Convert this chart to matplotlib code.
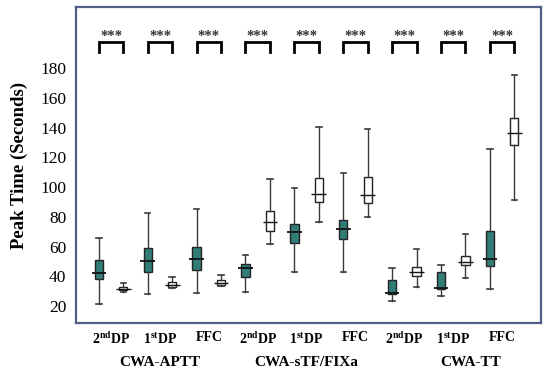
import matplotlib.pyplot as plt
import numpy as np

plt.rcParams['font.family'] = ['Liberation Serif', 'DejaVu Serif']
plt.rcParams['mathtext.fontset'] = 'custom'
plt.rcParams['mathtext.rm'] = 'Liberation Serif'
plt.rcParams['mathtext.bf'] = 'Liberation Serif:bold'

groups = ['CWA-APTT', 'CWA-sTF/FIXa', 'CWA-TT']
conditions = [r'$\mathbf{2^{nd}DP}$', r'$\mathbf{1^{st}DP}$', 'FFC'] * 3

# five-number summaries (whisker low, q1, median, q3, whisker high)
teal_low = [21.3, 28.3, 29.0, 29.6, 42.9, 43.1, 23.8, 26.9, 31.4]
teal_q1 = [38.0, 43.1, 44.2, 39.7, 62.6, 65.0, 27.9, 31.4, 47.1]
teal_med = [42.0, 50.5, 51.8, 45.8, 69.6, 71.8, 28.7, 32.4, 51.4]
teal_q3 = [50.9, 58.8, 60.0, 48.2, 75.3, 77.8, 37.7, 42.7, 70.4]
teal_high = [65.5, 82.8, 85.0, 54.3, 99.3, 109.2, 45.7, 48.0, 125.8]

white_low = [29.2, 32.0, 33.4, 62.1, 76.5, 80.0, 32.6, 38.6, 91.3]
white_q1 = [30.6, 33.1, 34.2, 70.4, 89.7, 89.0, 40.2, 47.6, 128.0]
white_med = [31.7, 34.2, 35.8, 76.7, 95.1, 94.4, 42.9, 49.6, 136.5]
white_q3 = [32.8, 36.4, 37.9, 83.9, 106.3, 106.7, 46.4, 53.8, 146.6]
white_high = [35.3, 39.3, 40.8, 105.4, 140.5, 138.8, 58.3, 68.2, 175.5]

yticks = [20, 40, 60, 80, 100, 120, 140, 160, 180]

teal_pos = np.arange(1, 19, 2)
white_pos = teal_pos + 1

fig = plt.figure(figsize=(5.5, 3.71), dpi=100)
ax = fig.add_axes([0.138, 0.129, 0.846, 0.852])


def make_stats(low, q1, med, q3, high):
    return [dict(whislo=a, q1=b, med=c, q3=d, whishi=e, fliers=[])
            for a, b, c, d, e in zip(low, q1, med, q3, high)]


line_c = '#3a3a3a'
for stats, pos, face in ((make_stats(teal_low, teal_q1, teal_med, teal_q3, teal_high), teal_pos, '#317d78'),
                         (make_stats(white_low, white_q1, white_med, white_q3, white_high), white_pos, 'white')):
    ax.bxp(stats, positions=pos, widths=0.34, patch_artist=True, showfliers=False,
           boxprops=dict(facecolor=face, edgecolor='#222222', linewidth=1.0),
           whiskerprops=dict(color=line_c, linewidth=1.0),
           capprops=dict(color=line_c, linewidth=1.2),
           medianprops=dict(linewidth=0),
           capwidths=0.22)

# medians stick out past the boxes
ax.hlines(teal_med, teal_pos - 0.3, teal_pos + 0.3, color='#111111', linewidth=1.3, zorder=4)
ax.hlines(white_med, white_pos - 0.3, white_pos + 0.3, color='#111111', linewidth=1.0, zorder=4)

# significance brackets
for a, b in zip(teal_pos, white_pos):
    ax.plot([a, a, b, b], [190.8, 197.5, 197.5, 190.8], color='black', linewidth=2.0,
            solid_joinstyle='miter')
    ax.text((a + b) / 2, 197.0, '***', ha='center', va='bottom', fontsize=10.5,
            fontweight='bold', color='#333333')

ax.set_xlim(0.06, 19.1)
ax.set_ylim(8.6, 221)
ax.set_yticks(yticks)
ax.tick_params(axis='y', length=0, pad=7, labelsize=12.5)

pair_x = (teal_pos + white_pos) / 2
ax.set_xticks(pair_x)
ax.set_xticklabels(conditions, fontsize=10, fontweight='bold')
ax.tick_params(axis='x', length=0, pad=6)

group_x = [pair_x[0:3].mean(), pair_x[3:6].mean(), pair_x[6:9].mean() + 0.7]
for gx, name in zip(group_x, groups):
    ax.text(gx, -0.125, name, transform=ax.get_xaxis_transform(), ha='center', va='center',
            fontsize=11, fontweight='bold')

ax.set_ylabel('Peak Time (Seconds)', fontsize=13.5, fontweight='bold', labelpad=9)

for s in ax.spines.values():
    s.set_color('#4d5f86')
    s.set_linewidth(1.6)

fig.savefig('out.png', dpi=100)
